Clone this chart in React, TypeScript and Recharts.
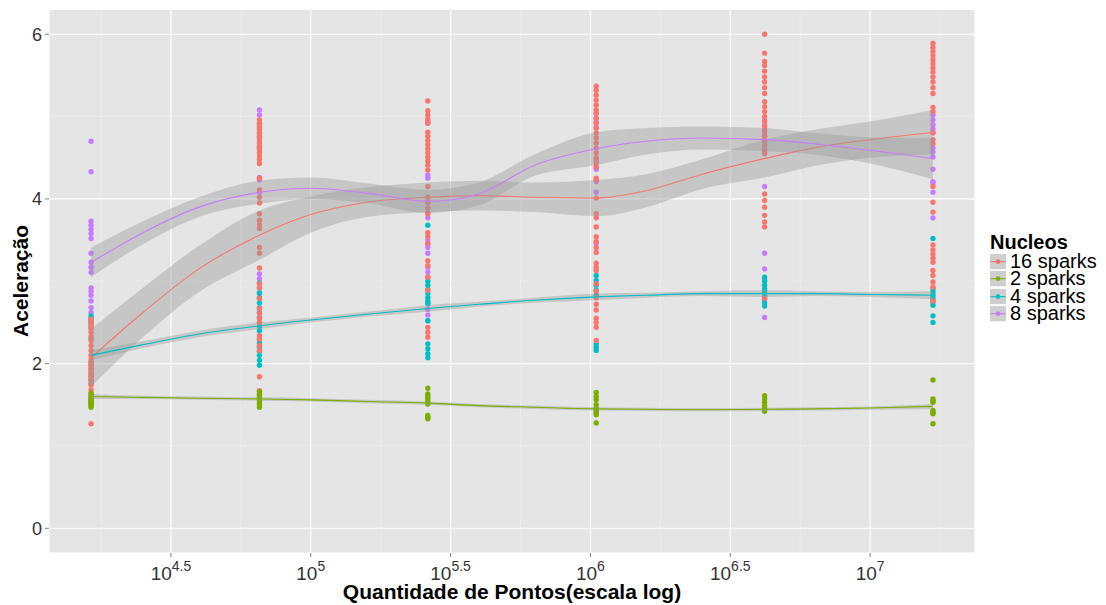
import React from 'react';
import {
  ComposedChart,
  XAxis,
  YAxis,
  CartesianGrid,
  Scatter,
  Line,
  Area,
  ReferenceLine,
} from 'recharts';

// Problem sizes (number of points) used in the benchmark runs
const pointCounts = [16384, 65536, 262144, 1048576, 4194304, 16777216];

const seriesNames = ['16 sparks', '2 sparks', '4 sparks', '8 sparks'];
const seriesColors = ['#F8766D', '#7CAE00', '#00BFC4', '#C77CFF'];

// Measured speed-ups, one list per problem size
const speedup16 = [
  [2.54, 2.5, 2.46, 2.42, 2.38, 2.33, 2.28, 2.22, 2.16, 2.1, 2.05, 2.0, 1.95, 1.9, 1.85, 1.8, 1.74, 1.68, 1.63, 1.58, 1.55, 1.51, 1.27],
  [4.96, 4.92, 4.88, 4.84, 4.8, 4.76, 4.72, 4.68, 4.64, 4.6, 4.56, 4.52, 4.48, 4.43, 4.25, 4.11, 4.02, 3.95, 3.82, 3.74, 3.69, 3.64, 3.41, 3.34, 3.16, 2.97, 2.92, 2.79, 2.67, 2.61, 2.55, 2.5, 2.34, 2.3, 2.22, 2.16, 1.84, 1.67, 1.63],
  [5.19, 5.07, 5.02, 4.97, 4.92, 4.81, 4.76, 4.71, 4.66, 4.61, 4.56, 4.51, 4.46, 4.41, 4.35, 4.15, 4.02, 3.96, 3.89, 3.82, 3.59, 3.54, 3.46, 3.25, 3.19, 3.05, 2.89, 2.44, 2.38, 2.32],
  [5.37, 5.32, 5.26, 5.2, 5.14, 5.08, 5.04, 4.98, 4.92, 4.86, 4.8, 4.74, 4.68, 4.62, 4.56, 4.5, 4.44, 4.39, 4.25, 4.23, 4.01, 3.82, 3.77, 3.66, 3.54, 3.48, 3.41, 3.35, 3.22, 3.17, 3.13, 2.97, 2.88, 2.8, 2.72, 2.65, 2.55, 2.5, 2.44, 2.28],
  [6.0, 5.77, 5.67, 5.62, 5.55, 5.48, 5.42, 5.35, 5.28, 5.18, 5.12, 5.06, 5.0, 4.94, 4.88, 4.82, 4.76, 4.7, 4.64, 4.58, 4.55, 4.06, 3.98, 3.9, 3.8, 3.72, 3.66, 2.79],
  [5.89, 5.84, 5.79, 5.74, 5.69, 5.64, 5.59, 5.54, 5.48, 5.42, 5.35, 5.28, 5.11, 5.06, 4.8, 4.72, 4.67, 4.15, 3.96, 3.84, 3.44, 3.38, 3.33, 3.28, 3.23, 3.13, 3.07, 2.99, 2.93, 2.76],
];
const speedup2 = [
  [1.64, 1.61, 1.59, 1.57, 1.55, 1.53, 1.51, 1.49, 1.47],
  [1.66, 1.62, 1.59, 1.56, 1.53, 1.5, 1.47],
  [1.7, 1.63, 1.6, 1.57, 1.54, 1.51, 1.37, 1.35, 1.33],
  [1.65, 1.6, 1.56, 1.5, 1.46, 1.44, 1.42, 1.4, 1.38, 1.28],
  [1.61, 1.57, 1.53, 1.49, 1.46, 1.44, 1.42],
  [1.8, 1.57, 1.55, 1.53, 1.43, 1.41, 1.39, 1.27],
];
const speedup4 = [
  [2.58, 2.55, 2.52, 2.48, 2.44, 2.3, 2.02, 1.98, 1.93, 1.88, 1.84, 1.8, 1.76],
  [2.98, 2.92, 2.86, 2.8, 2.74, 2.68, 2.62, 2.56, 2.5, 2.45, 2.4, 2.3, 2.25, 2.2, 2.15, 2.1, 2.04, 1.98],
  [3.68, 3.0, 2.95, 2.9, 2.85, 2.8, 2.76, 2.73, 2.52, 2.24, 2.18, 2.12, 2.07],
  [3.07, 3.01, 2.95, 2.89, 2.83, 2.24, 2.2, 2.16],
  [3.05, 3.0, 2.95, 2.9, 2.86, 2.82, 2.78, 2.74, 2.7],
  [3.52, 2.91, 2.87, 2.83, 2.79, 2.75, 2.71, 2.58, 2.5],
];
const speedup8 = [
  [4.7, 4.33, 3.73, 3.68, 3.63, 3.58, 3.52, 3.34, 3.23, 3.17, 3.11, 2.92, 2.88, 2.83, 2.76, 2.68, 2.62],
  [5.08, 5.02, 4.91, 4.86, 4.8, 4.75, 4.69, 4.63, 4.26, 4.23, 4.08, 3.09, 3.03, 2.85],
  [4.95, 4.92, 4.29, 4.25, 3.95, 3.89, 3.83, 3.77, 3.5, 3.45, 3.41, 3.34, 3.17, 3.11, 3.05, 2.73, 2.66, 2.59, 2.52],
  [5.04, 4.98, 4.93, 4.87, 4.47, 4.38, 4.36, 4.21, 4.08, 3.46],
  [4.96, 4.9, 4.84, 4.78, 4.72, 4.66, 4.6, 4.55, 4.15, 3.34, 3.15, 3.03, 2.91, 2.56],
  [5.02, 4.96, 4.9, 4.85, 4.81, 4.62, 4.57, 4.51, 4.36, 4.21, 4.19, 4.08, 3.77],
];

// Smoothed trend (loess) evaluated along the x range, with its standard-error half width
const smoothX = [16384, 25119, 39811, 65536, 100000, 158489, 262144, 398107, 630957, 1048576, 1584893, 2511886, 4194304, 6309573, 10000000, 16777216];
const fit16 = [2.07, 2.62, 3.15, 3.56, 3.81, 3.96, 4.02, 4.04, 4.02, 4.01, 4.1, 4.3, 4.49, 4.62, 4.72, 4.81];
const se16 = [0.35, 0.3, 0.28, 0.3, 0.22, 0.18, 0.18, 0.18, 0.18, 0.22, 0.2, 0.18, 0.23, 0.22, 0.22, 0.27];
const fit2 = [1.6, 1.59, 1.58, 1.57, 1.56, 1.54, 1.52, 1.49, 1.47, 1.45, 1.445, 1.44, 1.445, 1.45, 1.46, 1.48];
const se2 = [0.03, 0.02, 0.02, 0.02, 0.02, 0.02, 0.02, 0.02, 0.02, 0.02, 0.02, 0.02, 0.02, 0.02, 0.02, 0.03];
const fit4 = [2.1, 2.23, 2.36, 2.46, 2.53, 2.6, 2.67, 2.72, 2.77, 2.81, 2.83, 2.85, 2.85, 2.85, 2.84, 2.83];
const se4 = [0.06, 0.04, 0.04, 0.04, 0.03, 0.03, 0.04, 0.03, 0.03, 0.04, 0.03, 0.03, 0.04, 0.03, 0.03, 0.05];
const fit8 = [3.23, 3.59, 3.9, 4.08, 4.13, 4.07, 3.97, 4.06, 4.41, 4.61, 4.7, 4.74, 4.72, 4.67, 4.59, 4.49];
const se8 = [0.18, 0.14, 0.12, 0.14, 0.13, 0.12, 0.14, 0.14, 0.13, 0.2, 0.16, 0.14, 0.14, 0.13, 0.16, 0.25];

// Axis ticks (x given as powers of ten)
const xTickExps = [4.5, 5, 5.5, 6, 6.5, 7];
const xMinorExps = [4.25, 4.75, 5.25, 5.75, 6.25, 6.75, 7.25];
const xDomainExps = [4.064, 7.375];
const yTicks = [0, 2, 4, 6];
const yMinor = [1, 3, 5];
const yDomain = [-0.3, 6.3];

const FONT = '"Liberation Sans", Arial, Helvetica, sans-serif';

const pointsOf = (groups: number[][]) =>
  groups.flatMap((vals, i) => vals.map((y) => ({ x: pointCounts[i], y })));

const curveOf = (fit: number[], se: number[]) =>
  smoothX.map((x, i) => ({ x, fit: fit[i], band: [fit[i] - se[i], fit[i] + se[i]] }));

const pointSets = [speedup16, speedup2, speedup4, speedup8].map(pointsOf);
const curves = [
  curveOf(fit16, se16),
  curveOf(fit2, se2),
  curveOf(fit4, se4),
  curveOf(fit8, se8),
];

const makeDot = (color: string) => (props: any) =>
  props.cx == null ? <g /> : <circle cx={props.cx} cy={props.cy} r={2.7} fill={color} />;

const PowerTick = (props: any) => {
  const { x, y, payload } = props;
  const exp = Math.round(Math.log10(payload.value) * 10) / 10;
  return (
    <text x={x} y={y} textAnchor="middle" fill="#333333" fontFamily={FONT}>
      <tspan dy={21} fontSize={19}>10</tspan>
      <tspan dy={-9} fontSize={14}>{String(exp)}</tspan>
    </text>
  );
};

const scatterOrder = [3, 2, 0, 1];

export default function App() {
  return (
    <div style={{ position: 'absolute', left: 0, top: 0, width: 1106, height: 605, background: '#fff', fontFamily: FONT }}>
      <ComposedChart
        width={1106}
        height={605}
        margin={{ top: 9.5, right: 131, bottom: 0, left: 0 }}
      >
        <CartesianGrid fill="#E5E5E5" stroke="#FFFFFF" strokeWidth={1.1} />
        {xMinorExps.map((e) => (
          <ReferenceLine key={'vx' + e} x={Math.pow(10, e)} stroke="#F2F2F2" strokeWidth={0.55} zIndex={-90} />
        ))}
        {yMinor.map((v) => (
          <ReferenceLine key={'hy' + v} y={v} stroke="#F2F2F2" strokeWidth={0.55} zIndex={-90} />
        ))}
        <XAxis
          dataKey="x"
          type="number"
          scale="log"
          domain={[Math.pow(10, xDomainExps[0]), Math.pow(10, xDomainExps[1])]}
          ticks={xTickExps.map((e) => Math.pow(10, e))}
          allowDataOverflow
          height={52}
          tickSize={4}
          tickMargin={2}
          axisLine={false}
          tickLine={{ stroke: '#7F7F7F' }}
          tick={<PowerTick />}
        />
        <YAxis
          type="number"
          domain={yDomain}
          ticks={yTicks}
          allowDataOverflow
          width={49}
          tickSize={4}
          tickMargin={3}
          axisLine={false}
          tickLine={{ stroke: '#7F7F7F' }}
          tick={{ fill: '#333333', fontSize: 18, fontFamily: FONT }}
        />
        {scatterOrder.map((s) => (
          <Scatter
            key={'pts' + s}
            name={seriesNames[s]}
            data={pointSets[s]}
            dataKey="y"
            shape={makeDot(seriesColors[s])}
            isAnimationActive={false}
            zIndex={50}
          />
        ))}
        {curves.map((c, s) => (
          <Area
            key={'band' + s}
            data={c}
            dataKey="band"
            type="monotone"
            stroke="none"
            fill="#999999"
            fillOpacity={0.4}
            isAnimationActive={false}
            zIndex={110 + s * 10}
          />
        ))}
        {curves.map((c, s) => (
          <Line
            key={'fit' + s}
            data={c}
            dataKey="fit"
            type="monotone"
            stroke={seriesColors[s]}
            strokeWidth={1.1}
            dot={false}
            activeDot={false}
            isAnimationActive={false}
            zIndex={115 + s * 10}
          />
        ))}
      </ComposedChart>

      {/* axis titles */}
      <div
        style={{
          position: 'absolute',
          left: 512,
          top: 585,
          height: 14,
          transform: 'translateX(-50%)',
          fontSize: 21,
          fontWeight: 'bold',
          whiteSpace: 'nowrap',
          lineHeight: '14px',
          color: '#000',
        }}
      >
        Quantidade de Pontos(escala log)
      </div>
      <div
        style={{
          position: 'absolute',
          left: 21,
          top: 281,
          transform: 'translate(-50%, -50%) rotate(-90deg)',
          fontSize: 21,
          fontWeight: 'bold',
          whiteSpace: 'nowrap',
          lineHeight: '22px',
          color: '#000',
        }}
      >
        Aceleração
      </div>

      {/* legend */}
      <div style={{ position: 'absolute', left: 989, top: 232, color: '#000' }}>
        <div style={{ fontSize: 20, fontWeight: 'bold', lineHeight: '21px', height: 21, marginLeft: 1 }}>Nucleos</div>
        {seriesNames.map((name, s) => (
          <div key={name} style={{ display: 'flex', alignItems: 'center', height: 17.3 }}>
            <svg width={18} height={17.3} style={{ display: 'block' }}>
              <rect x={0.5} y={0.5} width={17} height={16.3} fill="#CECECE" stroke="#FFFFFF" strokeWidth={1} />
              <line x1={1.5} y1={8.65} x2={16.5} y2={8.65} stroke={seriesColors[s]} strokeWidth={1.1} />
              <circle cx={9} cy={8.65} r={2.3} fill={seriesColors[s]} />
            </svg>
            <div style={{ fontSize: 20, lineHeight: '17px', height: 17, marginLeft: 3, whiteSpace: 'nowrap' }}>{name}</div>
          </div>
        ))}
      </div>
    </div>
  );
}
